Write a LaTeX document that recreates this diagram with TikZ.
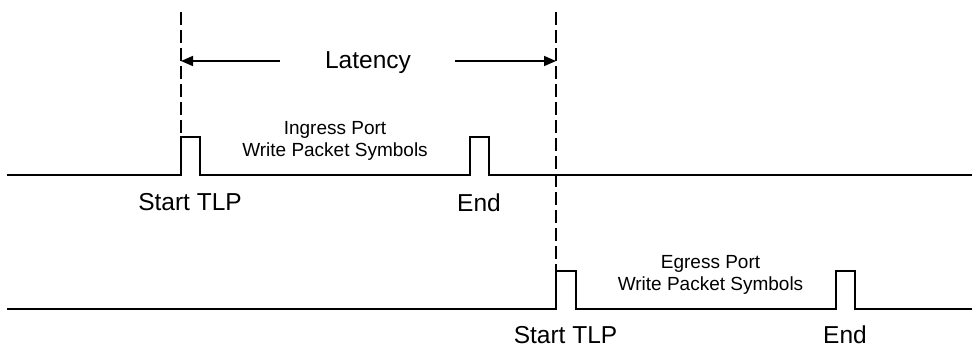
\documentclass[tikz,border=0pt]{standalone}
\usepackage{fontspec}
\setmainfont{Liberation Sans}
\usetikzlibrary{arrows.meta}
\begin{document}
\begin{tikzpicture}[x={(1bp,0)},y={(0,-1bp)},
  sig/.style={line width=2bp,line join=miter},
  vline/.style={line width=2.3bp,dash pattern=on 13bp off 5bp},
  dim/.style={line width=1.6bp,-{Triangle[length=12bp,width=10bp]}},
  big/.style={font=\fontsize{24.5bp}{28bp}\selectfont,inner sep=0pt},
  small/.style={font=\fontsize{19bp}{22bp}\selectfont,inner sep=0pt,align=center}]
\useasboundingbox (0,0) rectangle (972,347);
% signals
\draw[sig] (7,175) -- (181,175) -- (181,137) -- (200,137) -- (200,175) -- (470,175) -- (470,137) -- (489,137) -- (489,175) -- (972,175);
\draw[sig] (7,309) -- (556,309) -- (556,271) -- (576,271) -- (576,309) -- (836,309) -- (836,271) -- (855,271) -- (855,309) -- (972,309);
% dashed markers
\coordinate (d1t) at (181,12);
\coordinate (d1b) at (181,137);
\coordinate (d2t) at (556,12);
\coordinate (d2b) at (556,271);
\draw[vline] (d1t) -- (d1b);
\draw[vline] (d2t) -- (d2b);
% latency
\node[big,anchor=base] (lat) at (368,68.5) {Latency};
\coordinate (la) at (181,61);
\coordinate (ra) at (556,61);
\draw[dim] (280,61) coordinate (ls) -- (la);
\draw[dim] (455,61) coordinate (rs) -- (ra);
% labels
\node[small] (ing) at (335,141) {Ingress Port\\Write Packet Symbols};
\node[small] (egr) at (710.5,275) {Egress Port\\Write Packet Symbols};
\node[big] (s1) at (190,202.5) {Start TLP};
\node[big] (e1) at (479,202.5) {End};
\node[big] (s2) at (565.5,335) {Start TLP};
\node[big] (e2) at (845,335) {End};
\end{tikzpicture}
\end{document}
